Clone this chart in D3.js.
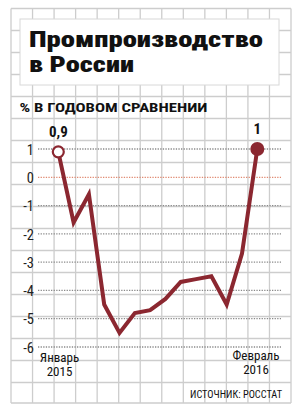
<!DOCTYPE html>
<html><head><meta charset="utf-8">
<script src="https://cdn.jsdelivr.net/npm/d3@7"></script>
<style>
html,body{margin:0;padding:0;background:#fff;}
svg{display:block;}
text{font-family:"Liberation Sans Narrow","Roboto Condensed","Roboto","Liberation Sans",sans-serif;}
</style></head>
<body>
<script>
const months = ["2015-01","2015-02","2015-03","2015-04","2015-05","2015-06","2015-07","2015-08","2015-09","2015-10","2015-11","2015-12","2016-01","2016-02"];
const values = [0.9,-1.6,-0.6,-4.5,-5.5,-4.8,-4.7,-4.3,-3.7,-3.6,-3.5,-4.5,-2.7,1.0];
const yTicks = [1,0,-1,-2,-3,-4,-5,-6];
const valueLabels = ["0,9","1"];
const title = ["Промпроизводство","в России"];
const subtitle = "% В ГОДОВОМ СРАВНЕНИИ";
const startLabel = ["Январь","2015"];
const endLabel = ["Февраль","2016"];
const source = "ИСТОЧНИК: РОССТАТ";

const W = 301, H = 413;
const svg = d3.select("body").append("svg").attr("width", W).attr("height", H);

// background grid paper
const gx0 = 11, gx1 = 291, gy0 = 8.5, gy1 = 403;
const grid = svg.append("g").attr("stroke", "#cdcdcd").attr("stroke-width", 1.3);
grid.selectAll("line.v").data(d3.range(14)).join("line")
  .attr("x1", k => gx0 + k*(gx1-gx0)/13).attr("x2", k => gx0 + k*(gx1-gx0)/13)
  .attr("y1", gy0).attr("y2", gy1);
grid.selectAll("line.h").data(d3.range(18)).join("line")
  .attr("x1", gx0).attr("x2", gx1)
  .attr("y1", k => gy0 + k*22).attr("y2", k => gy0 + k*22);
grid.append("line").attr("x1", gx0).attr("x2", gx1).attr("y1", gy1).attr("y2", gy1);

// title box
svg.append("rect").attr("x", 20).attr("y", 19).attr("width", 259).attr("height", 66)
  .attr("fill", "#fff").attr("stroke", "#d8d8d8").attr("stroke-width", 1);
svg.append("text").attr("x", 29).attr("y", 47).text(title[0])
  .attr("font-size", 22).attr("font-weight", 900).attr("fill", "#111")
  .attr("textLength", 234).attr("lengthAdjust", "spacingAndGlyphs");
svg.append("text").attr("x", 29).attr("y", 72).text(title[1])
  .attr("font-size", 22).attr("font-weight", 900).attr("fill", "#111")
  .attr("textLength", 105).attr("lengthAdjust", "spacingAndGlyphs");

// subtitle
svg.append("text").attr("x", 19.5).attr("y", 111.5).text(subtitle)
  .attr("font-size", 13).attr("font-weight", 700).attr("fill", "#111")
  .attr("textLength", 188).attr("lengthAdjust", "spacingAndGlyphs");

// scales
const x = d3.scalePoint().domain(months).range([58.3, 257.3]);
const y = d3.scaleLinear().domain([-6, 1]).range([347, 149]);

// dotted value gridlines
svg.append("g").selectAll("line").data(yTicks).join("line")
  .attr("x1", 38).attr("x2", 281)
  .attr("y1", d => y(d)).attr("y2", d => y(d))
  .attr("stroke", d => d === 0 ? "#e08a72" : "#8a8a8a")
  .attr("stroke-width", 1.3)
  .attr("stroke-dasharray", "1.3,1.3");

// y axis labels
const yAxis = svg.append("g").attr("transform", "translate(34,0)")
  .call(d3.axisLeft(y).tickValues(yTicks).tickSize(0).tickPadding(0).tickFormat(d => String(d)));
yAxis.select(".domain").remove();
yAxis.selectAll("text").attr("font-size", 14.5).attr("fill", "#222")
  .attr("font-family", '"Liberation Sans Narrow","Roboto Condensed","Roboto",sans-serif')
  .attr("dy", "0.36em");

// line
svg.append("path").datum(values)
  .attr("d", d3.line().x((d, i) => x(months[i])).y(d => y(d)))
  .attr("fill", "none").attr("stroke", "#8b2730").attr("stroke-width", 4)
  .attr("stroke-linejoin", "miter");

// end markers
svg.append("circle").attr("cx", x(months[0])).attr("cy", y(values[0])).attr("r", 5.5)
  .attr("fill", "#fff").attr("stroke", "#8b2730").attr("stroke-width", 2.2);
svg.append("circle").attr("cx", x(months[months.length-1])).attr("cy", y(values[values.length-1])).attr("r", 7)
  .attr("fill", "#8b2730");

// value labels
svg.append("text").attr("x", x(months[0])).attr("y", 136.5).attr("text-anchor", "middle")
  .text(valueLabels[0]).attr("font-size", 15).attr("font-weight", 700).attr("fill", "#111");
svg.append("text").attr("x", x(months[months.length-1])).attr("y", 133.5).attr("text-anchor", "middle")
  .text(valueLabels[1]).attr("font-size", 15).attr("font-weight", 700).attr("fill", "#111");

// period labels
svg.append("text").attr("x", 59.5).attr("y", 362).attr("text-anchor", "middle")
  .text(startLabel[0]).attr("font-size", 13).attr("fill", "#111");
svg.append("text").attr("x", 59.5).attr("y", 375.5).attr("text-anchor", "middle")
  .text(startLabel[1]).attr("font-size", 13).attr("fill", "#111");
svg.append("text").attr("x", 256).attr("y", 359.5).attr("text-anchor", "middle")
  .text(endLabel[0]).attr("font-size", 13).attr("fill", "#111");
svg.append("text").attr("x", 256).attr("y", 374).attr("text-anchor", "middle")
  .text(endLabel[1]).attr("font-size", 13).attr("fill", "#111");

// source
svg.append("text").attr("x", 282).attr("y", 398).attr("text-anchor", "end")
  .text(source).attr("font-size", 10.5).attr("fill", "#111")
  .attr("textLength", 92).attr("lengthAdjust", "spacingAndGlyphs");
</script>
</body></html>
